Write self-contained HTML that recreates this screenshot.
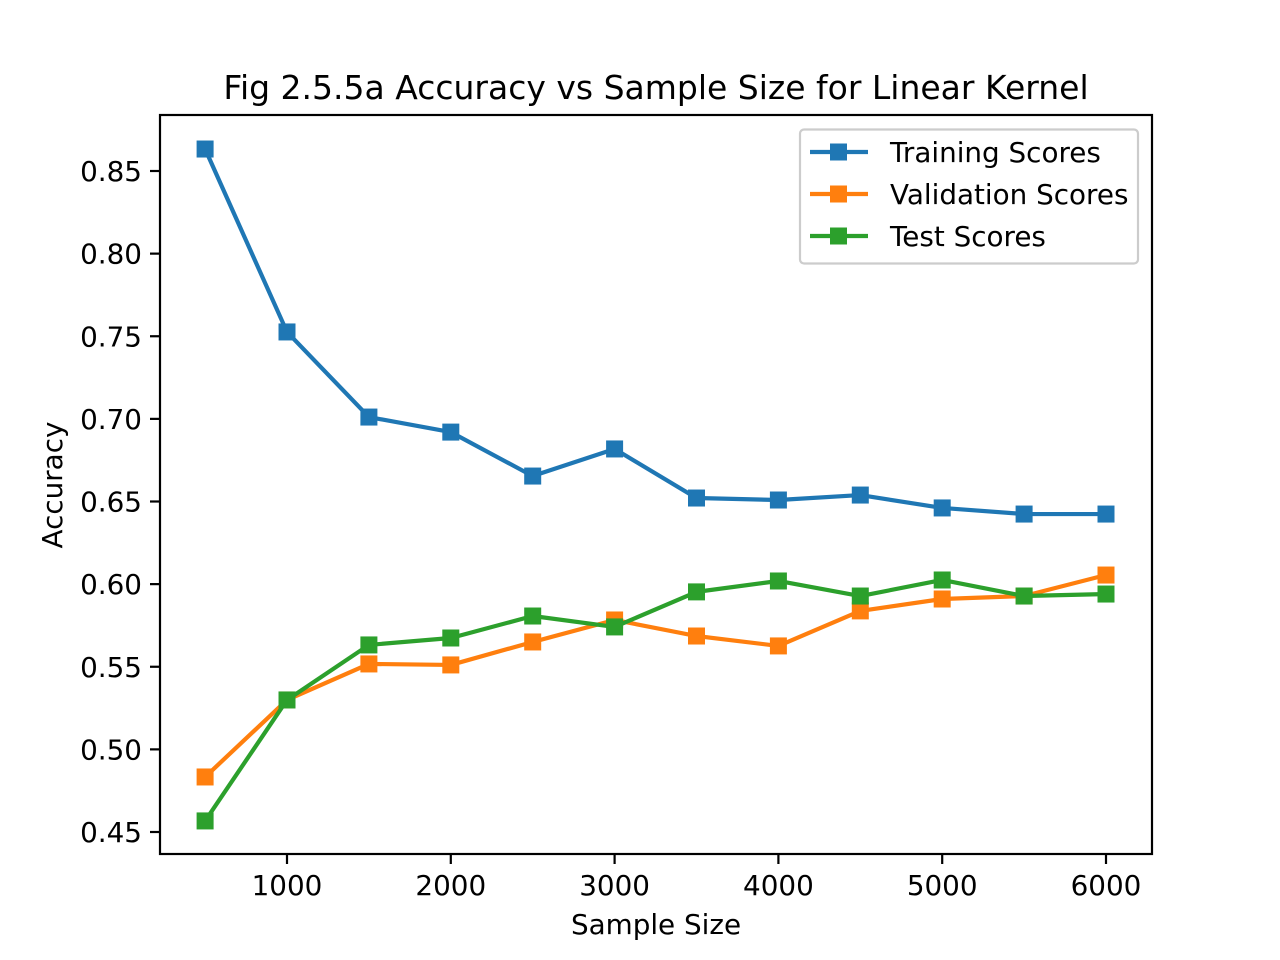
<!DOCTYPE html>
<html><head><meta charset="utf-8"><style>
html,body{margin:0;padding:0;background:#fff;}
svg{display:block;font-family:"DejaVu Sans","Liberation Sans",sans-serif;}
</style></head><body>
<svg id="chart" width="1280" height="960" viewBox="0 0 1280 960" xmlns="http://www.w3.org/2000/svg">
<rect width="1280" height="960" fill="#fff"/>
<text x="656" y="99" font-size="33" text-anchor="middle" fill="#000">Fig 2.5.5a Accuracy vs Sample Size for Linear Kernel</text>
<g id="plot"></g>
<g id="axes"></g>
<text x="656" y="934" font-size="27.8" text-anchor="middle">Sample Size</text>
<text transform="translate(62,485) rotate(-90)" font-size="27.8" text-anchor="middle">Accuracy</text>
<g>
<rect x="800" y="129.5" width="338" height="134" rx="4" fill="#fff" stroke="#ccc" stroke-width="2.2"/>
<g id="legend-entries"></g>
</g>
</svg>
<script>
const sizes=[500,1000,1500,2000,2500,3000,3500,4000,4500,5000,5500,6000];
const training=[0.8633,0.7526,0.7011,0.692,0.6654,0.6818,0.6521,0.6509,0.6539,0.6461,0.6424,0.6424];
const validation=[0.4833,0.5299,0.5517,0.5511,0.5650,0.5783,0.5686,0.5626,0.5838,0.5910,0.5928,0.6055];
const test=[0.4567,0.5299,0.5632,0.5674,0.5807,0.5741,0.5953,0.6019,0.5928,0.6025,0.5928,0.5940];
const seriesNames=["Training Scores","Validation Scores","Test Scores"];
const xTicks=[1000,2000,3000,4000,5000,6000];
const yTicks=[0.45,0.50,0.55,0.60,0.65,0.70,0.75,0.80,0.85];

const NS="http://www.w3.org/2000/svg";
const X=v=>287+(v-1000)*(819/5000);
const Y=v=>832-(v-0.45)*(661/0.4);
function mk(tag,attrs,parent){const e=document.createElementNS(NS,tag);for(const k in attrs)e.setAttribute(k,attrs[k]);parent.appendChild(e);return e;}
const plot=document.getElementById('plot'),axes=document.getElementById('axes');
const colors=["#1f77b4","#ff7f0e","#2ca02c"];
const data=[training,validation,test];
data.forEach((s,i)=>{
  const pl=mk('polyline',{points:s.map((v,j)=>X(sizes[j])+','+Y(v)).join(' '),fill:'none',stroke:colors[i],'stroke-width':4.2,'stroke-linejoin':'round','stroke-linecap':'square'},plot);
  
  
  s.forEach((v,j)=>{
    const r=mk('rect',{x:X(sizes[j])-8.5,y:Y(v)-8.5,width:17,height:17,fill:colors[i]},plot);
    
    
  });
});
const frame=mk('rect',{x:160,y:115,width:992,height:739,fill:'none',stroke:'#000','stroke-width':2.2},axes);


xTicks.forEach(t=>{
  mk('line',{x1:X(t),x2:X(t),y1:854,y2:864,stroke:'#000','stroke-width':2.2},axes);
  const tx=mk('text',{x:X(t),y:895,'font-size':27.8,'text-anchor':'middle'},axes);
  tx.textContent=t;
  
  
});
yTicks.forEach(t=>{
  mk('line',{x1:150,x2:160,y1:Y(t),y2:Y(t),stroke:'#000','stroke-width':2.2},axes);
  const tx=mk('text',{x:142,y:Y(t)+10,'font-size':27.8,'text-anchor':'end'},axes);
  tx.textContent=t.toFixed(2);
  
  
});
const leg=document.getElementById('legend-entries');
seriesNames.forEach((n,i)=>{
  const y=152+i*42;
  const g=mk('g',{},leg);
  
  
  mk('line',{x1:810,x2:868,y1:y,y2:y,stroke:colors[i],'stroke-width':4.2},g);
  mk('rect',{x:830,y:y-8.5,width:17,height:17,fill:colors[i]},g);
  const t=mk('text',{x:890,y:y+10,'font-size':27.8},g);
  t.textContent=n;
});
</script>
</body></html>
